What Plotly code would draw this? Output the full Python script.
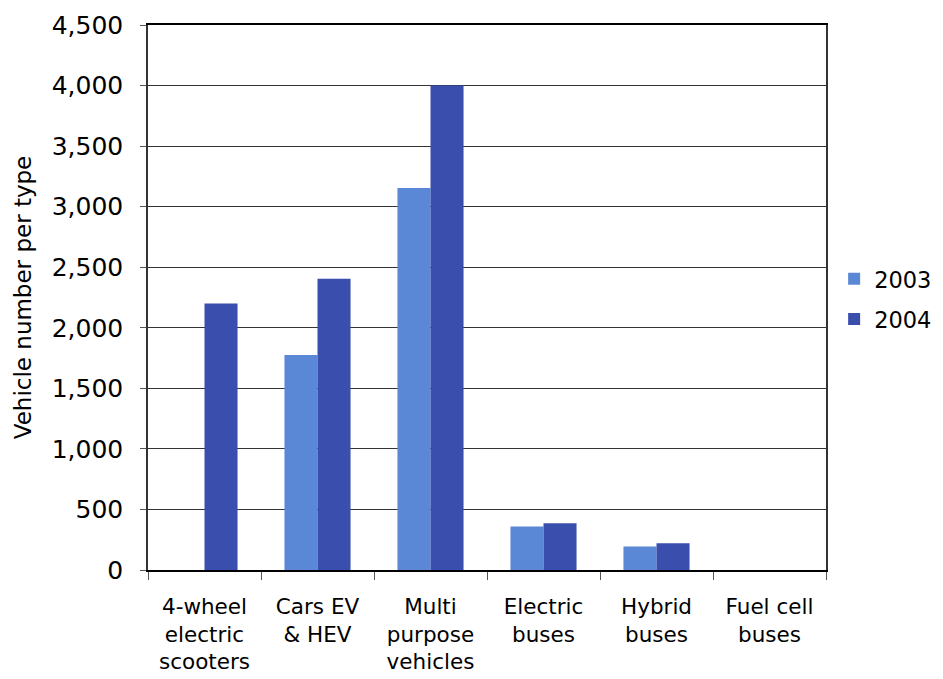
import plotly.graph_objects as go

categories = ["4-wheel<br>electric<br>scooters", "Cars EV<br>& HEV", "Multi<br>purpose<br>vehicles",
              "Electric<br>buses", "Hybrid<br>buses", "Fuel cell<br>buses"]
values_2003 = [0, 1775, 3155, 360, 195, 0]
values_2004 = [2200, 2405, 4000, 385, 220, 0]
series_names = ["2003", "2004"]
y_ticks = [0, 500, 1000, 1500, 2000, 2500, 3000, 3500, 4000, 4500]
y_tick_labels = ["0", "500", "1,000", "1,500", "2,000", "2,500", "3,000", "3,500", "4,000", "4,500"]

FONT = "DejaVu Sans"
fig = go.Figure()
fig.add_trace(go.Bar(x=categories, y=values_2003, name=series_names[0], marker_color="#5B88D6",
                     marker_line_width=0, legendgroup="a"))
fig.add_trace(go.Bar(x=categories, y=values_2004, name=series_names[1], marker_color="#3A4EAD",
                     marker_line_width=0, legendgroup="b"))

fig.update_layout(
    width=935, height=671,
    margin=dict(l=140, r=117, t=17, b=109, autoexpand=False),
    paper_bgcolor="white", plot_bgcolor="white",
    barmode="group", bargap=0.415, bargroupgap=0,
    font=dict(family=FONT, size=20, color="black"),
    legend=dict(x=1.012, y=0.497, yanchor="middle", xanchor="left",
                bgcolor="rgba(0,0,0,0)",
                font=dict(size=22.5), itemwidth=30, tracegroupgap=8),
    showlegend=True,
)
fig.update_xaxes(
    automargin=False,
    showline=True, linecolor="black", linewidth=1.5, mirror=True,
    ticks="outside", tickson="boundaries", ticklen=8, tickcolor="#555",
    tickfont=dict(size=21.5), showgrid=False, ticklabelstandoff=16,
)
fig.update_yaxes(
    automargin=False,
    range=[0, 4500], tickvals=y_ticks, ticktext=y_tick_labels,
    showline=True, linecolor="#333", linewidth=1.5, mirror=True,
    ticks="outside", ticklen=6, tickcolor="#555",
    showgrid=True, gridcolor="#333", gridwidth=1,
    tickfont=dict(size=25), ticklabelstandoff=12,
    title=dict(text="Vehicle number per type", font=dict(size=23), standoff=14),
)
fig.write_html("out.html")
